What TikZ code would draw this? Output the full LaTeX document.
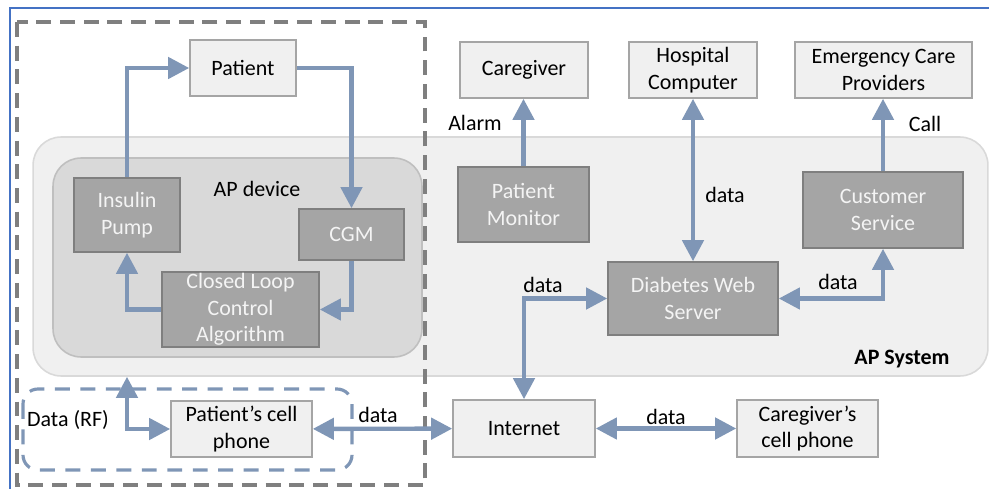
\documentclass[tikz,border=0pt]{standalone}
\usepackage{fontspec}
\setmainfont{Carlito}
\usetikzlibrary{arrows.meta, positioning}

\definecolor{flowc}{RGB}{127,150,182}
\definecolor{lightc}{RGB}{240,240,240}
\definecolor{darkc}{RGB}{165,165,165}
\definecolor{edgec}{RGB}{127,127,127}
\definecolor{sysc}{RGB}{217,217,217}
\definecolor{devc}{RGB}{191,191,191}
\definecolor{textc}{RGB}{244,244,244}
\definecolor{framec}{RGB}{68,114,196}

\begin{document}
\begin{tikzpicture}[x=0.02cm, y=-0.02cm, font=\fontsize{12.5}{15.1}\selectfont]

        \tikzstyle{light}=[draw=darkc, fill=lightc, line width=0.9pt, inner sep=0pt, align=center]
        \tikzstyle{dark}=[draw=edgec, fill=darkc, line width=0.9pt, inner sep=0pt, align=center, text=textc]
        \tikzstyle{flow}=[draw=flowc, line width=2.5pt, -{Triangle[length=12pt,width=12pt]}]
        \tikzstyle{flow2}=[flow, {Triangle[length=12pt,width=12pt]}-{Triangle[length=12pt,width=12pt]}]
        \tikzstyle{lbl}=[inner sep=0pt]

        \useasboundingbox (0,0) rectangle (989,489);

        % frame of the figure
        \draw[framec, line width=1.2pt] (9,8) -- (989,8);
        \draw[framec, line width=1.2pt] (10,8) -- (10,489);

        % containers
        \node[draw=sysc, fill=lightc, line width=0.9pt, rounded corners=0.56cm,
              minimum width=19.1cm, minimum height=4.78cm] (apsys) at (510.5,256.5) {};
        \node[draw=devc, fill=sysc, line width=0.9pt,
              rounded corners=0.56cm, minimum width=7.38cm, minimum height=3.98cm] (apdev) at (237.5,257.5) {};
        \node[lbl] (apsyslbl) at (902,359) {\bfseries AP System};
        \node[lbl] (apdevlbl) at (257,189) {AP device};

        \draw[edgec, line width=1.8pt, dash pattern=on 8.5pt off 5pt] (17,22) rectangle (425,485);
        \draw[flowc, line width=1.8pt, dash pattern=on 8.5pt off 6pt, rounded corners=0.3cm] (23,389) rectangle (352,470);

        % boxes
        \node[light, minimum width=2.12cm, minimum height=1.12cm] (pat) at (243,68) {Patient};
        \node[dark, minimum width=2.12cm, minimum height=1.48cm] (pump) at (127,215) {Insulin\\Pump};
        \node[dark, minimum width=2.10cm, minimum height=1.02cm] (cgm) at (351.5,234.5) {CGM};
        \node[dark, minimum width=3.14cm, minimum height=1.50cm] (clca) at (240.5,309.5) {Closed Loop\\Control\\Algorithm};

        \node[light, minimum width=2.56cm, minimum height=1.12cm] (cg) at (524,70) {Caregiver};
        \node[light, minimum width=2.56cm, minimum height=1.12cm] (hosp) at (693,70) {Hospital\\Computer};
        \node[light, minimum width=3.54cm, minimum height=1.12cm] (emer) at (883.5,70) {Emergency Care\\Providers};

        \node[dark, minimum width=2.62cm, minimum height=1.50cm] (mon) at (523.5,204.5) {Patient\\Monitor};
        \node[dark, minimum width=3.20cm, minimum height=1.52cm] (cust) at (883,210) {Customer\\Service};
        \node[dark, minimum width=3.40cm, minimum height=1.46cm] (dws) at (693,298.5) {Diabetes Web\\Server};

        \node[light, minimum width=2.82cm, minimum height=1.12cm] (ptcell) at (241.5,429) {Patient’s cell\\phone};
        \node[light, minimum width=2.84cm, minimum height=1.14cm] (inet) at (524,428.5) {Internet};
        \node[light, minimum width=2.82cm, minimum height=1.14cm] (cgcell) at (807.5,428.5) {Caregiver’s\\cell phone};

        \coordinate (rf) at (apsys.south -| pump);

        % connectors
        \draw[flow] (pump) |- (pat);
        \draw[flow] (pat) -| (cgm);
        \draw[flow] (cgm) |- (clca);
        \draw[flow] (clca) -| (pump);
        \draw[flow2] (rf) |- (ptcell);
        \draw[flow2] (ptcell) -- (inet);
        \draw[flow2] (inet) |- (dws);
        \draw[flow2] (inet) -- (cgcell);
        \draw[flow2] (dws) -| (cust);
        \draw[flow2] (hosp) -- (dws);
        \draw[flow] (mon) -- (mon |- cg.south);
        \draw[flow] (cust) -- (cust |- emer.south);

        % labels
        \node[lbl] (alarm) at (475,123) {Alarm};
        \node[lbl] (call) at (925,124) {Call};
        \node[lbl] (d_hosp) at (725,195) {data};
        \node[lbl] (d_inet) at (543,285) {data};
        \node[lbl] (d_cust) at (838,282) {data};
        \node[lbl] (d_rf) at (68,420) {Data (RF)};
        \node[lbl] (d_pt) at (378,415) {data};
        \node[lbl] (d_cg) at (666,417) {data};

        \end{tikzpicture}
\end{document}
